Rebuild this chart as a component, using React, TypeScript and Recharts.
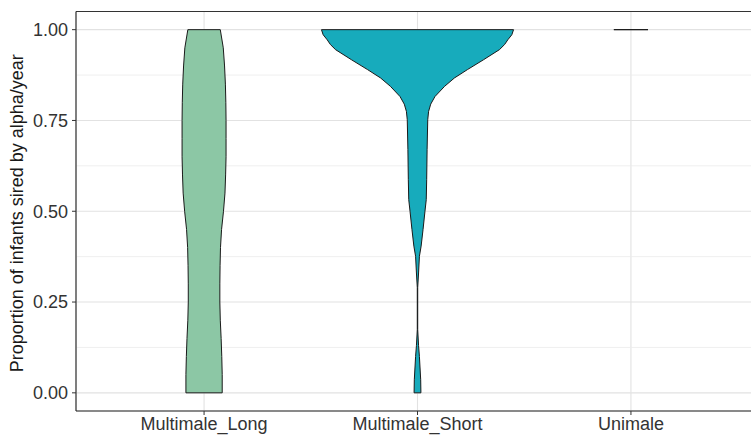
import React from 'react';
import {
  ComposedChart,
  Scatter,
  XAxis,
  YAxis,
  CartesianGrid,
  ReferenceLine,
} from 'recharts';

const categories = ['Multimale_Long', 'Multimale_Short', 'Unimale'];
const categoryPositions = [1, 2, 3];
const yTicks = [0, 0.25, 0.5, 0.75, 1];
const minorYTicks = [0.125, 0.375, 0.625, 0.875];

// Violin outlines: proportion level -> half width (in category units)
const longLevels = [0, 0.05, 0.1, 0.15, 0.2, 0.25, 0.3, 0.35, 0.4, 0.45, 0.5, 0.55, 0.6, 0.65, 0.7, 0.75, 0.8, 0.85, 0.9, 0.95, 1];
const longHalfWidths = [0.085, 0.085, 0.083, 0.08, 0.076, 0.074, 0.074, 0.075, 0.077, 0.082, 0.091, 0.098, 0.101, 0.103, 0.103, 0.103, 0.102, 0.1, 0.096, 0.09, 0.076];

const shortLevels = [0, 0.036, 0.1, 0.13, 0.174, 0.29, 0.33, 0.376, 0.404, 0.45, 0.5, 0.532, 0.587, 0.67, 0.752, 0.775, 0.795, 0.816, 0.844, 0.867, 0.89, 0.917, 0.945, 0.959, 0.972, 0.986, 1];
const shortHalfWidths = [0.016, 0.015, 0.009, 0.005, 0.001, 0.001, 0.005, 0.009, 0.017, 0.026, 0.035, 0.041, 0.043, 0.045, 0.048, 0.052, 0.062, 0.082, 0.127, 0.173, 0.234, 0.309, 0.384, 0.408, 0.423, 0.442, 0.45];

const uniLevels = [1];
const uniHalfWidths = [0.08];

const fillColors = ['#8cc7a5', '#17abbc'];

function violinPoints(center: number, levels: number[], hws: number[]) {
  const pts: { x: number; y: number }[] = [];
  for (let i = 0; i < levels.length; i++) pts.push({ x: center + hws[i], y: levels[i] });
  for (let i = levels.length - 1; i >= 0; i--) pts.push({ x: center - hws[i], y: levels[i] });
  pts.push(pts[0]);
  return pts;
}

const longData = violinPoints(categoryPositions[0], longLevels, longHalfWidths);
const shortData = violinPoints(categoryPositions[1], shortLevels, shortHalfWidths);
const uniData = violinPoints(categoryPositions[2], uniLevels, uniHalfWidths);

const FONT = '"Liberation Sans", Arial, Helvetica, sans-serif';
const EmptyShape = () => <g />;

const YLabel = (props: any) => {
  const vb = props.viewBox || {};
  const x = (vb.x || 0) + 17;
  const y = (vb.y || 0) + (vb.height || 0) / 2 + 2;
  return (
    <text
      x={x}
      y={y}
      transform={`rotate(-90, ${x}, ${y})`}
      textAnchor="middle"
      dominantBaseline="central"
      fontSize={18}
      fontFamily={FONT}
      fill="#1a1a1a"
    >
      Proportion of infants sired by alpha/year
    </text>
  );
};

export default function App() {
  return (
    <div
      style={{
        position: 'fixed',
        left: 0,
        top: 0,
        width: 751,
        height: 435,
        overflow: 'hidden',
        background: '#ffffff',
      }}
    >
      <ComposedChart
        width={760}
        height={435}
        margin={{ top: 11.5, right: 1, left: 0, bottom: 0 }}
        style={{ fontFamily: FONT }}
      >
        <CartesianGrid stroke="#e2e2e2" strokeWidth={1.1} />
        {minorYTicks.map((v) => (
          <ReferenceLine key={v} y={v} stroke="#ebebeb" strokeWidth={0.8} />
        ))}
        <XAxis
          type="number"
          dataKey="x"
          domain={[0.4, 3.6]}
          allowDataOverflow
          ticks={categoryPositions}
          tickFormatter={(v: number) => categories[v - 1]}
          height={24}
          tickSize={4}
          tickMargin={2}
          interval={0}
          axisLine={{ stroke: '#222', strokeWidth: 1.1 }}
          tickLine={{ stroke: '#333' }}
          tick={{ fill: '#333', fontSize: 18, fontFamily: FONT }}
        />
        <YAxis
          type="number"
          dataKey="y"
          domain={[-0.05, 1.05]}
          allowDataOverflow
          ticks={yTicks}
          tickFormatter={(v: number) => v.toFixed(2)}
          width={76}
          tickSize={4}
          tickMargin={4}
          interval={0}
          axisLine={{ stroke: '#222', strokeWidth: 1.1 }}
          tickLine={{ stroke: '#333' }}
          tick={{ fill: '#333', fontSize: 18, fontFamily: FONT }}
          label={<YLabel />}
        />
        <ReferenceLine y={1.05} stroke="#333" strokeWidth={1.1} ifOverflow="visible" />
        <Scatter
          data={longData}
          isAnimationActive={false}
          shape={EmptyShape}
          line={{ fill: fillColors[0], stroke: '#1a1a1a', strokeWidth: 1 }}
          lineType="joint"
          lineJointType="linear"
        />
        <Scatter
          data={shortData}
          isAnimationActive={false}
          shape={EmptyShape}
          line={{ fill: fillColors[1], stroke: '#1a1a1a', strokeWidth: 1 }}
          lineType="joint"
          lineJointType="linear"
        />
        <Scatter
          data={uniData}
          isAnimationActive={false}
          shape={EmptyShape}
          line={{ fill: 'none', stroke: '#1a1a1a', strokeWidth: 1 }}
          lineType="joint"
          lineJointType="linear"
        />
      </ComposedChart>
    </div>
  );
}
